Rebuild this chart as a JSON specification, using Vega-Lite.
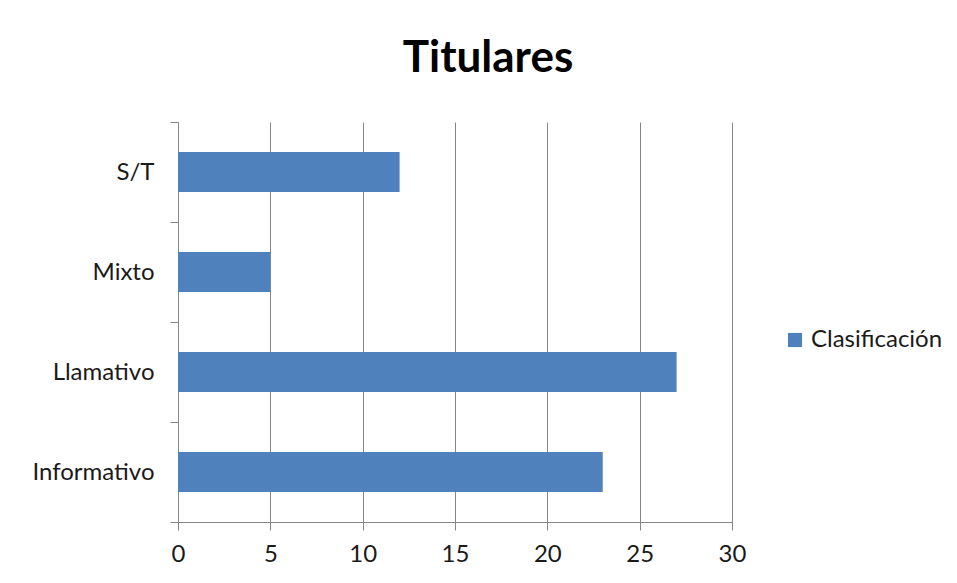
{
  "$schema": "https://vega.github.io/schema/vega-lite/v6.json",
  "width": 554,
  "height": 400,
  "autosize": {"type": "none"},
  "padding": {"left": 178, "top": 122, "right": 225, "bottom": 61},
  "background": "#ffffff",
  "title": {
    "text": "Titulares",
    "font": "Lato",
    "fontSize": 44,
    "fontWeight": "bold",
    "color": "#000000",
    "anchor": "middle",
    "dx": 33,
    "offset": 29
  },
  "data": {
    "values": [
      {"categoria": "S/T", "valor": 12, "serie": "Clasificación"},
      {"categoria": "Mixto", "valor": 5, "serie": "Clasificación"},
      {"categoria": "Llamativo", "valor": 27, "serie": "Clasificación"},
      {"categoria": "Informativo", "valor": 23, "serie": "Clasificación"}
    ]
  },
  "mark": {"type": "bar", "height": {"band": 0.4}},
  "encoding": {
    "y": {
      "field": "categoria",
      "type": "nominal",
      "sort": ["S/T", "Mixto", "Llamativo", "Informativo"],
      "scale": {"paddingInner": 0, "paddingOuter": 0},
      "axis": {
        "title": null,
        "tickBand": "extent",
        "tickSize": 8,
        "labelPadding": 16,
        "labelFont": "Lato",
        "labelFontSize": 24,
        "labelColor": "#1a1a1a",
        "domainColor": "#868686",
        "tickColor": "#868686",
        "grid": false
      }
    },
    "x": {
      "field": "valor",
      "type": "quantitative",
      "scale": {"domain": [0, 30], "nice": false},
      "axis": {
        "title": null,
        "values": [0, 5, 10, 15, 20, 25, 30],
        "tickSize": 8,
        "labelPadding": 12,
        "labelFont": "Lato",
        "labelFontSize": 24,
        "labelColor": "#1a1a1a",
        "domainColor": "#868686",
        "tickColor": "#868686",
        "grid": true,
        "gridColor": "#868686",
        "labelFlush": false
      }
    },
    "color": {
      "field": "serie",
      "type": "nominal",
      "scale": {"range": ["#4F81BD"]},
      "legend": {
        "title": null,
        "orient": "none",
        "legendX": 605,
        "legendY": 206,
        "symbolType": "square",
        "symbolSize": 200,
        "symbolStrokeWidth": 0,
        "labelFont": "Lato",
        "labelFontSize": 24,
        "labelColor": "#1a1a1a",
        "labelOffset": 4
      }
    }
  },
  "config": {
    "view": {"stroke": null}
  }
}
